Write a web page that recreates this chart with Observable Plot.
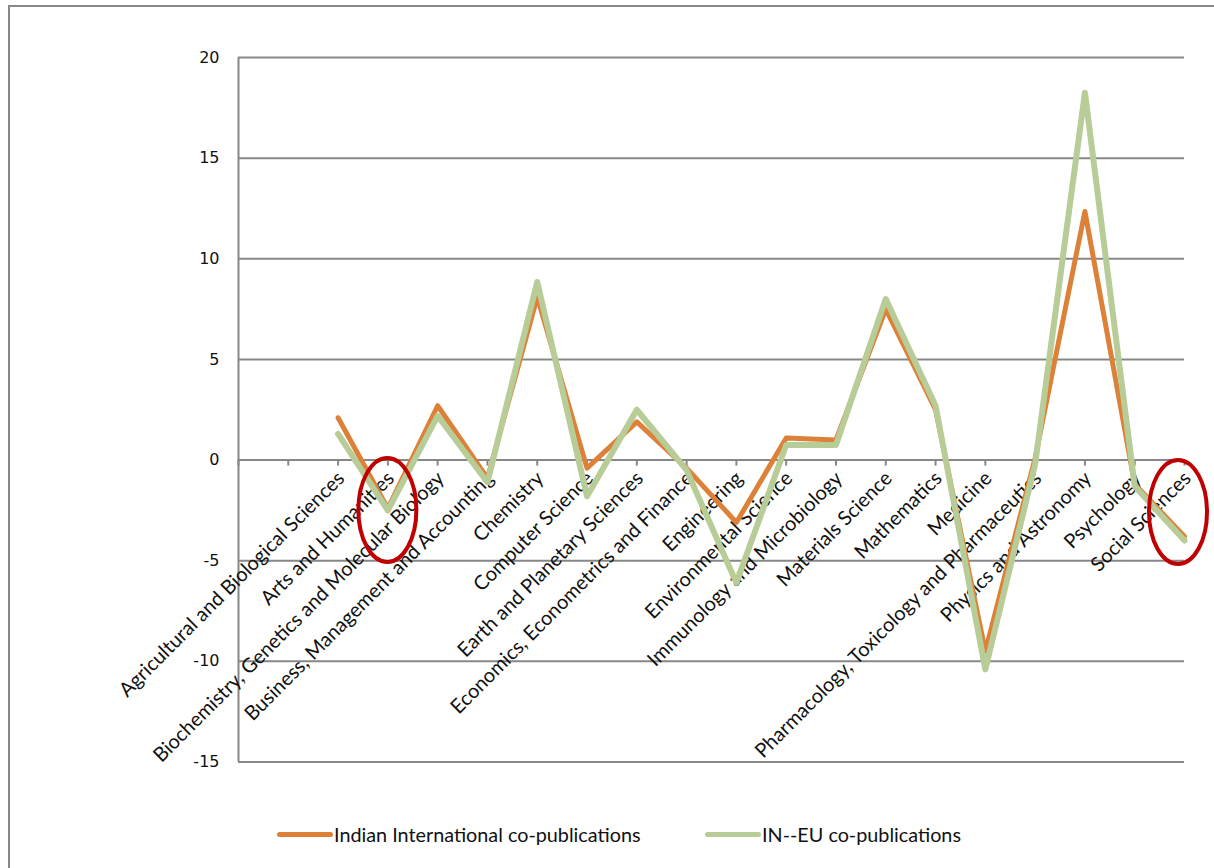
<!DOCTYPE html>
<html><head><meta charset="utf-8">
<script src="https://cdn.jsdelivr.net/npm/d3@7"></script>
<script src="https://cdn.jsdelivr.net/npm/@observablehq/plot@0.6"></script>
<style>
body{margin:0;background:#fff;width:1214px;height:868px;overflow:hidden;position:relative;font-family:Lato,sans-serif}
#frame{position:absolute;left:8px;top:5px;width:1230px;height:890px;border:2px solid #878787;box-sizing:border-box}
#chart{position:absolute;left:0;top:0}
.lg{position:absolute;top:822px;height:24px;display:flex;align-items:center;font-family:Lato,sans-serif;font-size:19.8px;color:#111;white-space:nowrap}
.sw{display:inline-block;width:56px;height:5px;border-radius:3px;margin-right:1px}
</style></head>
<body>
<div id="frame"></div>
<div id="chart"></div>
<div class="lg" style="left:277px"><span class="sw" style="background:#DD8139"></span>Indian International co-publications</div>
<div class="lg" style="left:705px"><span class="sw" style="background:#B7CC97"></span>IN--EU co-publications</div>
<script>
const categories = [
  "Agricultural and Biological Sciences",
  "Arts and Humanities",
  "Biochemistry, Genetics and Molecular Biology",
  "Business, Management and Accounting",
  "Chemistry",
  "Computer Science",
  "Earth and Planetary Sciences",
  "Economics, Econometrics and Finance",
  "Engineering",
  "Environmental Science",
  "Immunology and Microbiology",
  "Materials Science",
  "Mathematics",
  "Medicine",
  "Pharmacology, Toxicology and Pharmaceutics",
  "Physics and Astronomy",
  "Psychology",
  "Social Sciences"
];
const indianIntl = [2.1, -2.4, 2.7, -0.9, 8.1, -0.4, 1.9, -0.4, -3.1, 1.1, 1.0, 7.5, 2.5, -9.5, 0.1, 12.35, -1.2, -3.8];
const inEu = [1.3, -2.5, 2.2, -1.1, 8.85, -1.8, 2.5, -0.5, -6.1, 0.75, 0.75, 8.0, 2.7, -10.4, -0.2, 18.25, -1.3, -4.0];
const emptySlots = ["(empty 1)", "(empty 2)"];
const yTicks = [-15, -10, -5, 0, 5, 10, 15, 20];
const highlighted = [
  {category: "Arts and Humanities", value: -2.5},
  {category: "Social Sciences", value: -2.6}
];
const seriesNames = ["Indian International co-publications", "IN--EU co-publications"];

const xDomain = [...emptySlots, ...categories];
const rowsA = categories.map((c, i) => ({category: c, value: indianIntl[i], series: seriesNames[0]}));
const rowsB = categories.map((c, i) => ({category: c, value: inEu[i], series: seriesNames[1]}));
const grey = "#878787";

const ellipses = (index, scales) => {
  const g = d3.create("svg:g");
  highlighted.forEach((h, i) => {
    g.append("ellipse")
      .attr("cx", scales.x(h.category) + (i === 1 ? -6 : 0))
      .attr("cy", scales.y(h.value))
      .attr("rx", 29)
      .attr("ry", 52)
      .attr("fill", "none")
      .attr("stroke", "#C00000")
      .attr("stroke-width", 4);
  });
  return g.node();
};

const chart = Plot.plot({
  width: 1214,
  height: 800,
  marginLeft: 238,
  marginRight: 30,
  marginTop: 57,
  marginBottom: 38.5,
  style: {fontFamily: "Lato, sans-serif", background: "transparent"},
  x: {type: "point", domain: xDomain, padding: 0, round: false, axis: null},
  y: {domain: [-15, 20], ticks: yTicks, tickSize: 0, tickPadding: 19, tickFormat: d => String(d),
      label: null, fontSize: 16},
  marks: [
    Plot.ruleY(yTicks.filter(d => d !== 0), {stroke: grey, strokeWidth: 2}),
    Plot.ruleX([xDomain[0]], {y1: -15, y2: 20, stroke: grey, strokeWidth: 2}),
    Plot.ruleY([0], {stroke: grey, strokeWidth: 2}),
    Plot.ruleX(xDomain, {y1: 0, y2: -0.3, stroke: grey, strokeWidth: 2}),
    Plot.text(categories, {x: d => d, y: 0, text: d => d, rotate: -45, textAnchor: "end",
      dx: 3, dy: 15, fontSize: 20, fill: "#111"}),
    Plot.line(rowsA, {x: "category", y: "value", stroke: "#DD8139", strokeWidth: 5,
      strokeLinejoin: "round", strokeLinecap: "round"}),
    Plot.line(rowsB, {x: "category", y: "value", stroke: "#B7CC97", strokeWidth: 6,
      strokeLinejoin: "round", strokeLinecap: "round"}),
    ellipses
  ]
});
const yax = chart.querySelector("g[aria-label='y-axis tick label']") || chart.querySelector("g[aria-label='y-axis']");
if (yax) { yax.setAttribute("font-size", "16"); yax.style.fontFamily = "DejaVu Sans, sans-serif"; yax.setAttribute("fill", "#111"); }
document.getElementById("chart").appendChild(chart);
</script>
</body></html>
